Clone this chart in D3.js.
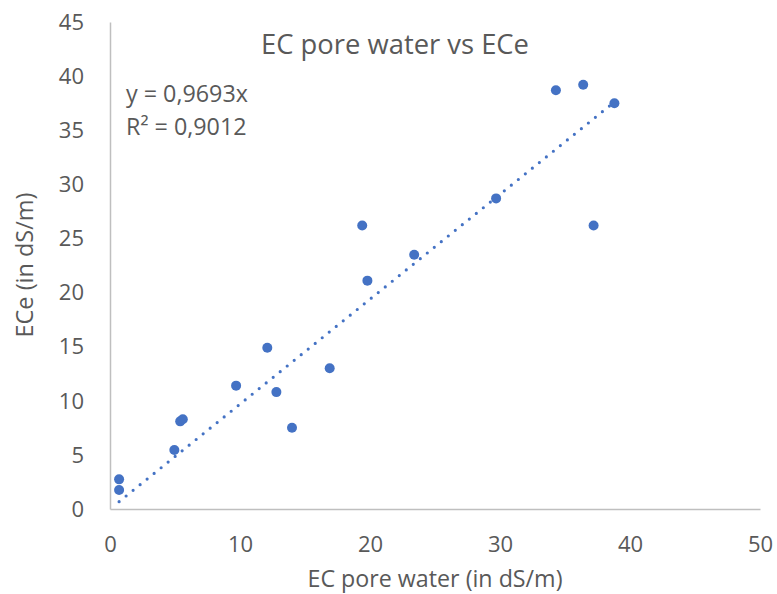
<!DOCTYPE html>
<html><head><meta charset="utf-8">
<script src="https://cdn.jsdelivr.net/npm/d3@7"></script>
<style>body{margin:0;background:#fff}text{font-family:"Open Sans",sans-serif;fill:#595959}</style>
</head><body>
<svg id="c" width="777" height="594"></svg>
<script>
const xValues = [0.7, 0.7, 4.95, 5.4, 5.6, 9.7, 12.1, 12.8, 14.0, 16.9, 19.4, 19.8, 23.4, 29.7, 34.3, 36.4, 37.2, 38.8];
const yValues = [2.74, 1.76, 5.45, 8.1, 8.3, 11.4, 14.9, 10.8, 7.5, 13.0, 26.2, 21.1, 23.5, 28.7, 38.7, 39.2, 26.2, 37.5];
const xTicks = [0, 10, 20, 30, 40, 50];
const yTicks = [0, 5, 10, 15, 20, 25, 30, 35, 40, 45];
const slope = 0.9693;
const title = "EC pore water vs ECe";
const xTitle = "EC pore water (in dS/m)";
const yTitle = "ECe (in dS/m)";
const eqLines = ["y = 0,9693x", "R² = 0,9012"];

const svg = d3.select("#c");
const x = d3.scaleLinear().domain([0, 50]).range([110, 760]);
const y = d3.scaleLinear().domain([0, 45]).range([509, 22]);

function fit(sel, width) {
  const w = sel.node().getComputedTextLength();
  const fs = parseFloat(sel.style("font-size"));
  sel.style("font-size", (fs * width / w).toFixed(2) + "px");
  return sel;
}

// axes
const xa = svg.append("g").attr("transform", `translate(0,${y(0)})`)
  .call(d3.axisBottom(x).tickValues(xTicks).tickSize(0).tickPadding(27));
const ya = svg.append("g").attr("transform", `translate(${x(0)},0)`)
  .call(d3.axisLeft(y).tickValues(yTicks).tickSize(0).tickPadding(26));
[xa, ya].forEach(g => {
  g.select(".domain").attr("stroke", "#bfbfbf").attr("stroke-width", 1.5);
  g.selectAll("text").style("font-family", "'Open Sans', sans-serif").style("font-size", "22px").attr("fill", "#595959");
});
xa.selectAll("text").attr("dy", "0.71em");
ya.selectAll("text").attr("dy", "0.33em");

// trendline
const xMin = d3.min(xValues), xMax = d3.max(xValues);
svg.append("line")
  .attr("x1", x(xMin)).attr("y1", y(slope * xMin))
  .attr("x2", x(xMax)).attr("y2", y(slope * xMax))
  .attr("stroke", "#4472C4").attr("stroke-width", 3.2)
  .attr("stroke-linecap", "round").attr("stroke-dasharray", "0 9");

// points
const data = xValues.map((v, i) => ({x: v, y: yValues[i]}));
svg.append("g").selectAll("circle").data(data).join("circle")
  .attr("cx", d => x(d.x)).attr("cy", d => y(d.y)).attr("r", 5)
  .attr("fill", "#4472C4");

// title
fit(svg.append("text").attr("x", 395).attr("y", 54).attr("text-anchor", "middle")
  .style("font-size", "24px").text(title), 268);
// equation
const e1 = fit(svg.append("text").attr("x", 126).attr("y", 102).style("font-size", "20px").text(eqLines[0]), 122);
svg.append("text").attr("x", 126).attr("y", 135).style("font-size", e1.style("font-size")).text(eqLines[1]);
// axis titles
fit(svg.append("text").attr("x", 435).attr("y", 587).attr("text-anchor", "middle")
  .style("font-size", "22px").text(xTitle), 255);
fit(svg.append("text").attr("transform", "translate(33,265) rotate(-90)").attr("text-anchor", "middle")
  .style("font-size", "22px").text(yTitle), 145);
</script>
</body></html>
